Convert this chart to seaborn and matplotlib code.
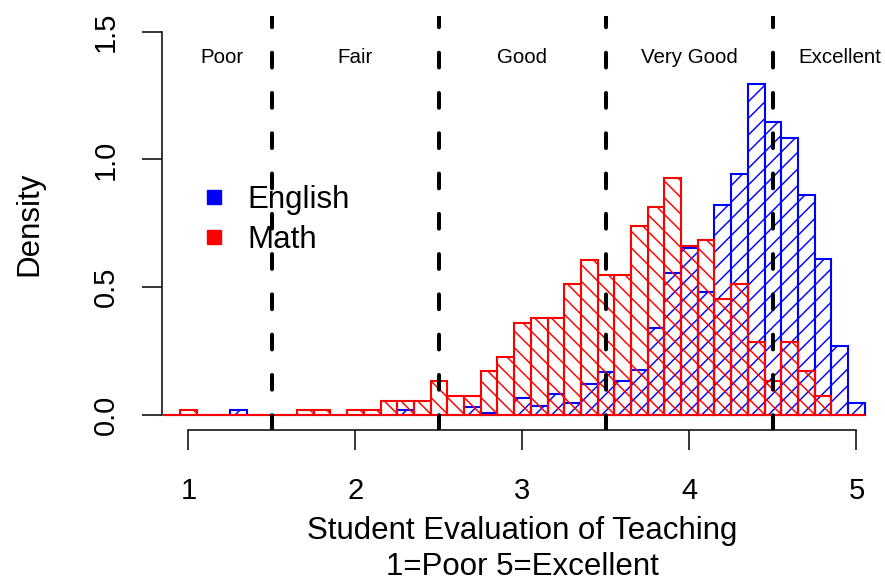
import numpy as np
import pandas as pd
import matplotlib
matplotlib.use("Agg")
import matplotlib.pyplot as plt
from matplotlib.lines import Line2D
import seaborn as sns

# Histogram bins (width 0.1), centres 0.9 ... 5.0
bin_centers = np.round(np.arange(0.9, 5.001, 0.1), 2)
bin_edges = np.round(np.arange(0.85, 5.051, 0.1), 2).tolist()

# Density per bin
english_density = [
    0, 0, 0, 0, 0.02, 0, 0, 0, 0, 0,            # 0.9 - 1.8
    0, 0, 0, 0, 0.02, 0, 0, 0, 0.03, 0.009,     # 1.9 - 2.8
    0, 0.065, 0.035, 0.083, 0.047, 0.12, 0.168, 0.133, 0.176, 0.342,  # 2.9 - 3.8
    0.556, 0.655, 0.483, 0.823, 0.944, 1.295, 1.147, 1.083, 0.861, 0.611,  # 3.9 - 4.8
    0.269, 0.046,                               # 4.9 - 5.0
]
math_density = [
    0, 0.02, 0, 0, 0, 0, 0, 0, 0.02, 0.02,
    0, 0.02, 0.02, 0.056, 0.056, 0.056, 0.133, 0.074, 0.074, 0.172,
    0.228, 0.36, 0.378, 0.378, 0.511, 0.608, 0.549, 0.548, 0.738, 0.814,
    0.928, 0.66, 0.684, 0.455, 0.511, 0.284, 0.133, 0.284, 0.171, 0.076,
    0, 0,
]

# rating categories written across the top
category_labels = ["Poor", "Fair", "Good", "Very Good", "Excellent"]
category_x = [1.2, 2.0, 3.0, 4.0, 4.9]
cutoffs = [1.5, 2.5, 3.5, 4.5]

df = pd.DataFrame({
    "score": bin_centers,
    "english": english_density,
    "math": math_density,
})

sns.set_style("ticks")
plt.rcParams["font.family"] = ["Liberation Sans", "DejaVu Sans"]
plt.rcParams["hatch.linewidth"] = 1.05
for key in ["text.color", "axes.labelcolor", "xtick.color", "ytick.color",
            "axes.edgecolor"]:
    plt.rcParams[key] = "black"

fig = plt.figure(figsize=(8.85, 5.81), dpi=100)
ax = fig.add_axes([0.1828, 0.2594, 0.8151, 0.7124])

sns.histplot(
    data=df, x="score", weights="english", bins=bin_edges, stat="count",
    fill=False, color="#0000FF", hatch="//", linewidth=1.5, ax=ax
)
sns.histplot(
    data=df, x="score", weights="math", bins=bin_edges, stat="count",
    fill=False, color="#FF0000", hatch="\\\\", linewidth=1.5, ax=ax
)

for c in cutoffs:
    ax.axvline(c, color="black", linewidth=2.9, linestyle=(0, (3.67, 6.33)),
               dash_capstyle="round", zorder=5)

for lab, xpos in zip(category_labels, category_x):
    ax.text(xpos, 1.4, lab, ha="center", va="center", fontsize=14.8)

ax.set_xlim(0.84, 5.16)
ax.set_ylim(-0.06, 1.56)
ax.set_xticks([1, 2, 3, 4, 5])
ax.set_yticks([0, 0.5, 1.0, 1.5])
ax.set_yticklabels(["0.0", "0.5", "1.0", "1.5"], rotation=90, va="center")

sns.despine(ax=ax)
ax.spines["left"].set_bounds(0, 1.5)
ax.spines["bottom"].set_bounds(1, 5)
for s in ["left", "bottom"]:
    ax.spines[s].set_linewidth(1.1)
ax.tick_params(axis="both", length=14.4, width=1.1, labelsize=21, color="black")
ax.tick_params(axis="x", pad=19.5)
ax.tick_params(axis="y", pad=16)

ax.set_ylabel("Density", fontsize=22.5)
ax.yaxis.set_label_coords(-0.163, 0.5)
ax.set_xlabel("Student Evaluation of Teaching\n1=Poor 5=Excellent",
              fontsize=22.5, linespacing=1.25)
ax.xaxis.set_label_coords(0.5, -0.207)

handles = [
    Line2D([], [], marker="s", color="#0000FF", linestyle="", markersize=10.5),
    Line2D([], [], marker="s", color="#FF0000", linestyle="", markersize=10.5),
]
ax.legend(handles, ["English", "Math"], loc="upper left",
          bbox_to_anchor=(0.055, 0.593), frameon=False, fontsize=22.5,
          borderpad=0, borderaxespad=0, handlelength=0.8,
          handletextpad=0.68, labelspacing=0.32)

plt.savefig("out.png", dpi=100)
plt.close()
